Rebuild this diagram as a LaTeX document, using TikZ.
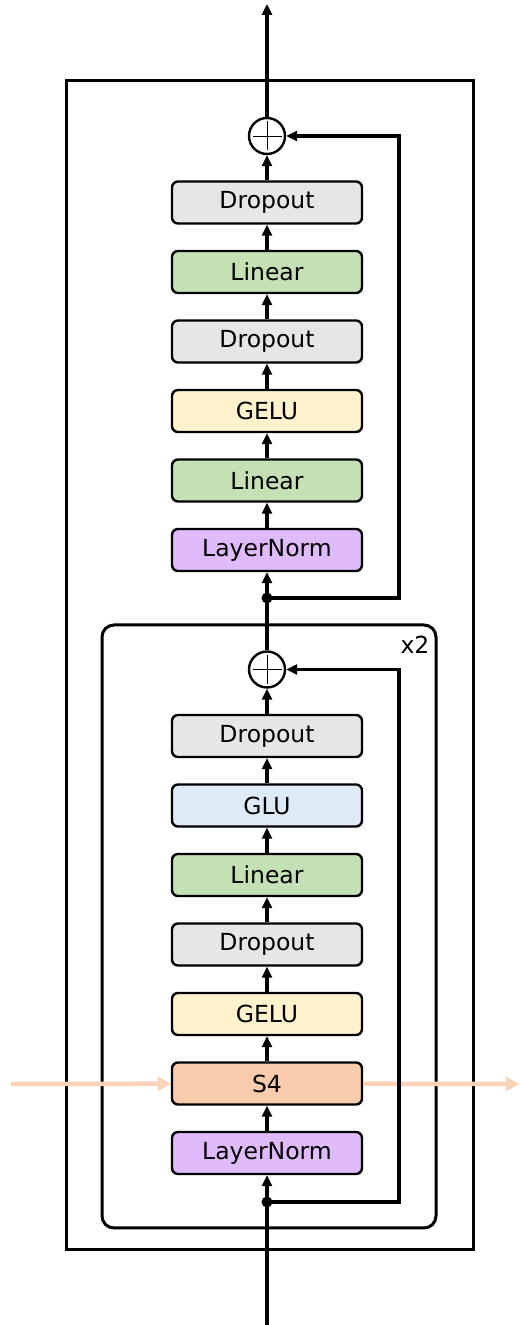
\documentclass[tikz,border=0pt]{standalone}
\usepackage{fontspec}
\setmainfont{DejaVu Sans}
\usetikzlibrary{positioning,arrows.meta}
\definecolor{dropgray}{HTML}{E6E6E6}
\definecolor{lingreen}{HTML}{C5E0B4}
\definecolor{geluyellow}{HTML}{FFF2CC}
\definecolor{lnpurple}{HTML}{E0BBFB}
\definecolor{glublue}{HTML}{DEEBF7}
\definecolor{sfourorange}{HTML}{F8CBAD}
\definecolor{seqorange}{HTML}{F9D3B8}
\tikzset{
  block/.style={draw, rounded corners=6pt, minimum width=190pt,
    minimum height=42pt, line width=2.4pt,
    font=\fontsize{23.5}{28}\selectfont},
  flow/.style={line width=3.4pt, -{Triangle[length=11pt,width=10pt]}},
  seq/.style={line width=4.5pt, draw=seqorange,
    -{Triangle[length=13pt,width=14pt]}},
  frame/.style={line width=3pt},
  addop/.style={draw, circle, minimum size=36pt, inner sep=0pt,
    line width=2.4pt,
    path picture={
      \draw[line width=0.9pt] ([yshift=-3.5pt]path picture bounding box.north)
        -- ([yshift=3.5pt]path picture bounding box.south);
      \draw[line width=0.9pt] ([xshift=-3.5pt]path picture bounding box.east)
        -- ([xshift=3.5pt]path picture bounding box.west);
    }}
}
\begin{document}
\begin{tikzpicture}[x=1pt, y=1pt, node distance=25.1pt]
  \useasboundingbox (0,0) rectangle (520,1325);

  % sequence in and out of S4
  \coordinate (seqin) at (11,241);
  \coordinate (seqout) at (519,241);

  % frames
  \draw[frame] (66,75) rectangle (473,1244);
  \draw[frame, rounded corners=12pt] (102,97) rectangle (436,700);
  \node[font=\fontsize{23.5}{28}\selectfont] (rep) at (415,680) {x2};

  % inner block (repeated)
  \node[block, fill=lnpurple] (ln1) at (267,172) {LayerNorm};
  \node[block, fill=sfourorange, above=of ln1] (s4) {S4};
  \node[block, fill=geluyellow, above=of s4] (gelu1) {GELU};
  \node[block, fill=dropgray, above=of gelu1] (drop1) {Dropout};
  \node[block, fill=lingreen, above=of drop1] (lin1) {Linear};
  \node[block, fill=glublue, above=of lin1] (glu) {GLU};
  \node[block, fill=dropgray, above=of glu] (drop2) {Dropout};
  \node[addop, above=of drop2] (add1) {};

  % feed-forward block
  \node[block, fill=lnpurple] (ln2) at (267,775) {LayerNorm};
  \node[block, fill=lingreen, above=of ln2] (lin2) {Linear};
  \node[block, fill=geluyellow, above=of lin2] (gelu2) {GELU};
  \node[block, fill=dropgray, above=of gelu2] (drop3) {Dropout};
  \node[block, fill=lingreen, above=of drop3] (lin3) {Linear};
  \node[block, fill=dropgray, above=of lin3] (drop4) {Dropout};
  \node[addop, above=of drop4] (add2) {};

  \coordinate (in) at (267,0);
  \coordinate (split1) at (267,123);
  \coordinate (split2) at (267,727);
  \coordinate (out) at (267,1321);

  \draw[seq] (seqin) -- (s4);
  \draw[seq] (s4) -- (seqout);

  % main path
  \draw[line width=3.4pt] (in) -- (split1);
  \draw[flow] (split1) -- (ln1);
  \draw[flow] (ln1) -- (s4);
  \draw[flow] (s4) -- (gelu1);
  \draw[flow] (gelu1) -- (drop1);
  \draw[flow] (drop1) -- (lin1);
  \draw[flow] (lin1) -- (glu);
  \draw[flow] (glu) -- (drop2);
  \draw[flow] (drop2) -- (add1);
  \draw[flow] (add1) -- (ln2);
  \draw[flow] (ln2) -- (lin2);
  \draw[flow] (lin2) -- (gelu2);
  \draw[flow] (gelu2) -- (drop3);
  \draw[flow] (drop3) -- (lin3);
  \draw[flow] (lin3) -- (drop4);
  \draw[flow] (drop4) -- (add2);
  \draw[flow] (add2) -- (out);

  % residual connections
  \draw[flow] (split1) -- ++(132,0) |- (add1);
  \draw[flow] (split2) -- ++(132,0) |- (add2);
  \fill (split1) circle (5.5pt);
  \fill (split2) circle (5.5pt);
\end{tikzpicture}
\end{document}
